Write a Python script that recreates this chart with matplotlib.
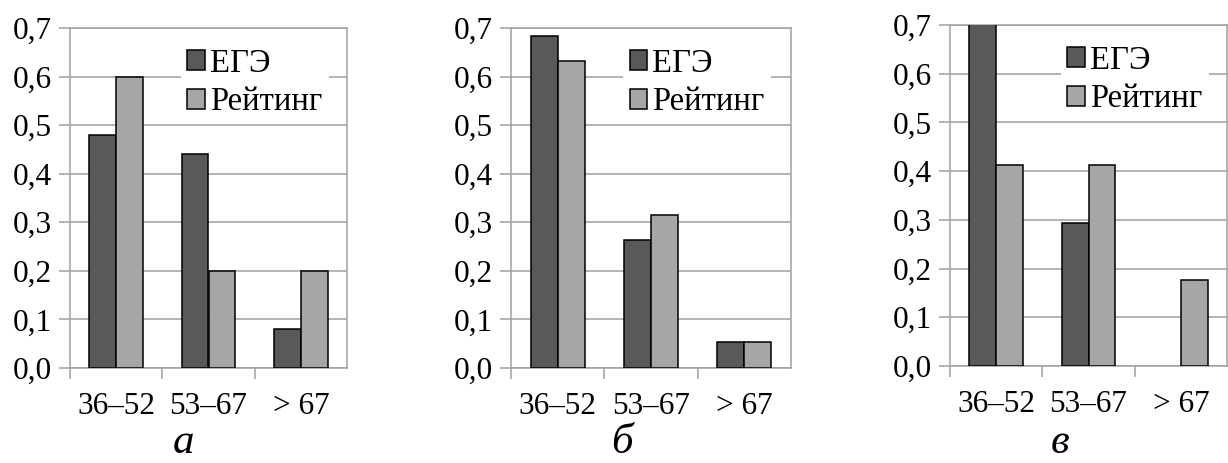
import numpy as np
import matplotlib
matplotlib.use("Agg")
import matplotlib.pyplot as plt
from matplotlib.ticker import FuncFormatter

plt.rcParams['font.family'] = ['Liberation Serif', 'DejaVu Serif']

# data
groups = ["36–52", "53–67", "> 67"]
series_names = ["ЕГЭ", "Рейтинг"]
ege_a = [0.48, 0.44, 0.08]
rating_a = [0.60, 0.20, 0.20]
ege_b = [0.684, 0.263, 0.053]
rating_b = [0.632, 0.316, 0.053]
ege_c = [0.706, 0.294, 0.0]
rating_c = [0.412, 0.412, 0.176]
panel_letters = ["а", "б", "в"]

dark = "#595959"
light = "#a6a6a6"
grid_col = "#a0a0a0"
fs = 22.5

fig = plt.figure(figsize=(12.28, 4.63), dpi=100)

# axes boxes in pixels: left, top, right, bottom
boxes = [(70, 28, 347, 368), (511, 28, 791, 368), (950, 25, 1227, 366)]
letter_x = [183, 622, 1060]
data = [(ege_a, rating_a), (ege_b, rating_b), (ege_c, rating_c)]

W, H = 1228.0, 463.0
x = np.arange(len(groups))
bw = 0.29

for i in range(3):
    l, t, r, b = boxes[i]
    ax = fig.add_axes([l / W, 1 - b / H, (r - l) / W, (b - t) / H])
    ege, rating = data[i]
    # no outline for empty bars
    lw_e = [1.1 if v > 0 else 0 for v in ege]
    lw_r = [1.1 if v > 0 else 0 for v in rating]
    ax.bar(x - bw / 2, ege, bw, color=dark, edgecolor="black", linewidth=lw_e,
           label=series_names[0], zorder=3)
    ax.bar(x + bw / 2, rating, bw, color=light, edgecolor="black", linewidth=lw_r,
           label=series_names[1], zorder=3)
    ax.set_xlim(-0.5, 2.5)
    ax.set_ylim(0, 0.7)
    ax.set_yticks(np.arange(0, 0.71, 0.1))
    ax.yaxis.set_major_formatter(FuncFormatter(lambda v, p: f"{v:.1f}".replace(".", ",")))
    ax.set_xticks(x)
    ax.set_xticklabels(groups)
    ax.set_xticks([-0.5, 0.5, 1.5], minor=True)
    ax.tick_params(axis="x", which="major", length=0, pad=17, labelsize=fs)
    ax.tick_params(axis="x", which="minor", length=8, width=1.1, color=grid_col, direction="out")
    ax.tick_params(axis="y", length=8, width=1.1, color=grid_col, pad=5, labelsize=fs)
    ax.grid(axis="y", color=grid_col, linewidth=1.1, zorder=0)
    ax.set_axisbelow(True)
    for s in ax.spines.values():
        s.set_color(grid_col)
        s.set_linewidth(1.1)
    leg = ax.legend(loc="upper left", bbox_to_anchor=(0.40, 0.96), fontsize=23.5,
                    frameon=True, framealpha=1, facecolor="white", edgecolor="none",
                    fancybox=False, borderpad=0.2, handlelength=0.55, handleheight=0.55,
                    handletextpad=0.15, labelspacing=0.25, borderaxespad=0)
    for h in leg.legend_handles:
        h.set_linewidth(1.1)
    leg.set_zorder(5)
    fig.text(letter_x[i] / W, 1 - 443 / H, panel_letters[i], fontsize=31, style="italic",
             ha="center", va="center")

fig.savefig("out.png", dpi=100)
